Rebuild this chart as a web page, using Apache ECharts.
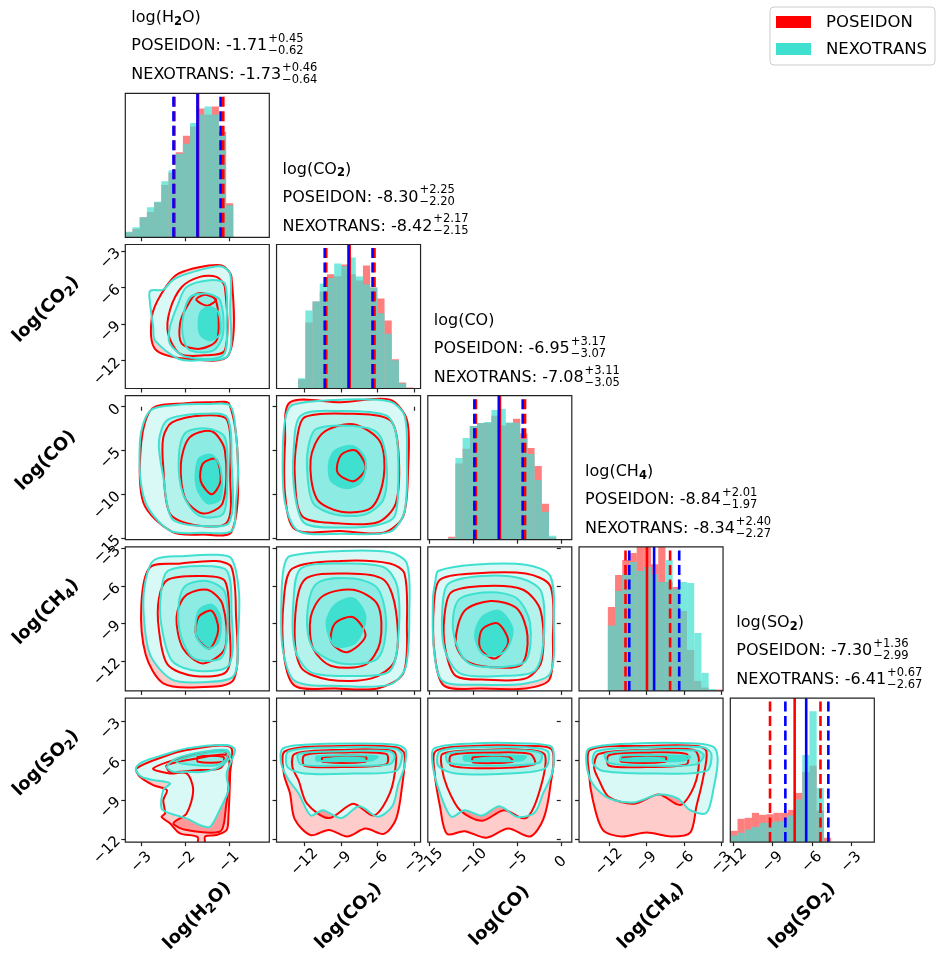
<!DOCTYPE html>
<html><head><meta charset="utf-8">
<script src="https://cdn.jsdelivr.net/npm/echarts@6.0.0/dist/echarts.min.js"></script>
<style>html,body{margin:0;padding:0;background:#fff}#c{width:943px;height:958px}</style>
</head><body><div id="c"></div><script>
// ================= DATA =================
// labels as [before subscript, subscript, after subscript]
const paramLabels = [['log(H','2','O)'],['log(CO','2',')'],['log(CO','',')'],['log(CH','4',')'],['log(SO','2',')']];
const axisRanges = [[-3.364,-0.09],[-14.3,-2.48],[-15.19,1.26],[-14.4,-2.87],[-12.23,-1.245]];
const tickValues = [[-3,-2,-1],[-12,-9,-6,-3],[-15,-10,-5,0],[-12,-9,-6,-3],[-12,-9,-6,-3]];
const seriesNames = ['POSEIDON','NEXOTRANS'];

// title statistics
const medPOS = [-1.71,-8.30,-6.95,-8.84,-7.30];
const errPOSplus = [0.45,2.25,3.17,2.01,1.36];
const errPOSminus = [0.62,2.20,3.07,1.97,2.99];
const medNEX = [-1.73,-8.42,-7.08,-8.34,-6.41];
const errNEXplus = [0.46,2.17,3.11,2.40,0.67];
const errNEXminus = [0.64,2.15,3.05,2.27,2.67];

// vertical lines drawn on the histograms [lower, median, upper]
const linesPOS = [[-2.246,-1.71,-1.136],[-10.22,-8.30,-6.26],[-9.69,-6.95,-4.08],[-10.68,-8.96,-7.11],[-9.20,-7.32,-5.35]];
const linesNEX = [[-2.269,-1.724,-1.197],[-10.345,-8.39,-6.42],[-9.87,-7.08,-4.35],[-10.38,-8.39,-6.38],[-8.03,-6.44,-4.75]];

// histograms: first bin start, bin width, counts
const histStart = [-3.364,-14.3,-12.86,-14.4,-12.23];
const histBinWidth = [0.1637,0.591,0.8225,0.5765,0.549];
const hist_H2O_POS = [15,25,60,76,105,157,194,255,305,333,387,369,393,317,102];
const hist_H2O_NEX = [17,30,60,90,107,168,201,251,281,343,369,393,369,309,96];
const hist_CO2_POS = [0,0,0,28,198,261,291,343,337,372,343,324,369,303,270,204,88,18,3];
const hist_CO2_NEX = [0,0,0,31,234,261,315,332,375,367,393,336,313,303,226,164,85,15,0];
const hist_CO_POS = [9,229,274,342,351,352,373,344,351,364,320,276,222,108,7];
const hist_CO_NEX = [4,246,306,342,351,354,390,394,353,352,303,258,180,84,12];
const hist_CH4_POS = [0,0,0,0,252,348,393,414,440,445,380,440,327,312,240,123,30,10,3,4];
const hist_CH4_NEX = [0,0,0,0,196,300,352,387,360,372,350,327,393,306,327,324,174,54,6,0];
const hist_SO2_POS = [34,70,73,88,82,84,88,88,97,148,211,230,95,13];
const hist_SO2_NEX = [20,28,38,46,58,58,62,64,80,128,262,394,163,3];

// contour rings (outer -> inner), [x, y] in data units
const cont_CO2_H2O_POS = [
 [[-2.16,-4.87],[-1.21,-4.18],[-0.95,-5.14],[-1.02,-11.58],[-1.97,-11.86],[-2.69,-11.04],[-2.76,-8.43],[-2.54,-6.51]],
 [[-2.35,-7.88],[-2.08,-5.97],[-1.67,-5.14],[-1.29,-5.14],[-1.10,-5.97],[-1.10,-11.17],[-1.59,-11.58],[-2.12,-11.45],[-2.39,-9.80]],
 [[-2.12,-8.98],[-1.97,-7.61],[-1.74,-6.51],[-1.36,-6.79],[-1.25,-8.16],[-1.29,-10.35],[-1.67,-11.04],[-2.08,-10.62]],
 [[-1.75,-7.0],[-1.55,-6.6],[-1.3,-7.0],[-1.5,-7.5]]];
const cont_CO2_H2O_NEX = [
 [[-2.80,-6.30],[-2.50,-6.18],[-2.27,-5.36],[-1.82,-4.73],[-1.21,-4.26],[-0.98,-4.86],[-0.98,-7.61],[-1.02,-11.58],[-1.67,-11.99],[-2.16,-11.86],[-2.69,-10.35],[-2.73,-9.26],[-2.80,-7.33]],
 [[-2.35,-9.26],[-2.16,-7.33],[-1.97,-5.97],[-1.44,-5.41],[-1.10,-5.69],[-1.06,-8.98],[-1.14,-11.58],[-1.97,-11.72],[-2.35,-10.62]],
 [[-2.05,-8.43],[-1.89,-6.79],[-1.52,-6.51],[-1.21,-7.06],[-1.14,-9.80],[-1.36,-11.17],[-1.89,-11.17],[-2.05,-10.08]],
 [[-1.67,-8.16],[-1.48,-7.61],[-1.25,-8.02],[-1.21,-9.80],[-1.44,-10.35],[-1.67,-9.80]]];

const cont_CO_H2O_POS = [
 [[-2.75,-0.2],[-2.0,0.4],[-1.4,0.5],[-1.0,0.3],[-0.8,-7],[-0.95,-14.3],[-1.6,-14.6],[-2.3,-14.3],[-2.95,-11],[-3.0,-4]],
 [[-2.3,-1.8],[-1.6,-1],[-1.05,-1.5],[-0.98,-8],[-1.05,-13.2],[-1.8,-13.5],[-2.35,-12.2],[-2.5,-7],[-2.5,-3.5]],
 [[-1.9,-3.5],[-1.4,-2.8],[-1.1,-5],[-1.15,-11],[-1.6,-12.2],[-2.0,-10.5],[-2.1,-6.5]],
 [[-1.6,-6.5],[-1.3,-6],[-1.2,-8.5],[-1.4,-10],[-1.65,-8.5]]];
const cont_CO_H2O_NEX = [
 [[-2.80,-0.45],[-2.2,0.2],[-1.5,0.3],[-0.98,0.12],[-0.85,-3],[-0.8,-7.3],[-0.85,-11],[-0.94,-14.16],[-1.6,-14.4],[-2.35,-14.16],[-2.92,-10.73],[-3.03,-3.88]],
 [[-2.4,-1.5],[-1.6,-0.8],[-1.05,-1.2],[-0.95,-6],[-1.0,-13.2],[-1.7,-13.6],[-2.3,-12.8],[-2.5,-8],[-2.6,-4]],
 [[-2.0,-3],[-1.5,-2.5],[-1.1,-3.5],[-1.05,-9],[-1.15,-12.3],[-1.7,-12.4],[-2.05,-10],[-2.15,-6]],
 [[-1.7,-6],[-1.4,-5.5],[-1.2,-7],[-1.2,-10.5],[-1.5,-11],[-1.75,-9]]];

const cont_CH4_H2O_POS = [
 [[-2.8,-4.5],[-2.1,-4.2],[-1.3,-4.0],[-0.95,-4.5],[-0.85,-8],[-0.9,-13.5],[-1.7,-14.1],[-2.5,-13.8],[-2.9,-11.5],[-3.0,-7.5]],
 [[-2.4,-5.5],[-1.6,-5.2],[-1.1,-5.6],[-1.0,-9],[-1.05,-12.8],[-1.8,-13.2],[-2.4,-12.3],[-2.6,-9.5],[-2.6,-7]],
 [[-2.0,-6.8],[-1.5,-6.3],[-1.15,-7.5],[-1.1,-11],[-1.6,-12.2],[-2.05,-11],[-2.2,-8.5]],
 [[-1.7,-8.5],[-1.4,-8],[-1.25,-9.5],[-1.45,-11],[-1.75,-10]]];
const cont_CH4_H2O_NEX = [
 [[-2.7,-3.9],[-2.0,-3.6],[-1.3,-3.5],[-0.95,-3.8],[-0.78,-6.5],[-0.8,-10],[-0.9,-13.2],[-1.6,-13.7],[-2.3,-13.5],[-2.8,-11.5],[-2.95,-8],[-2.9,-5.5]],
 [[-2.4,-4.8],[-1.6,-4.4],[-1.05,-4.8],[-0.95,-8],[-1.0,-12.3],[-1.7,-12.8],[-2.3,-12],[-2.55,-9],[-2.55,-6.5]],
 [[-2.0,-6],[-1.5,-5.6],[-1.1,-6.5],[-1.05,-10],[-1.2,-11.8],[-1.8,-11.8],[-2.1,-10],[-2.15,-7.5]],
 [[-1.7,-8],[-1.4,-7.5],[-1.2,-8.5],[-1.25,-10.5],[-1.5,-11],[-1.75,-10]]];

const cont_SO2_H2O_POS = [
 [[-3.11,-6.61],[-2.50,-5.72],[-1.97,-5.21],[-0.98,-4.96],[-0.98,-6.99],[-1.02,-10.30],[-1.06,-11.31],[-1.29,-11.69],[-1.55,-11.8],[-1.55,-12.6],[-1.72,-12.6],[-1.72,-11.85],[-2.12,-11.57],[-2.35,-10.80],[-2.54,-10.30],[-2.46,-10.04],[-2.50,-9.03],[-2.42,-8.26],[-2.73,-7.88],[-3.03,-7.25]],
 [[-2.73,-6.61],[-1.97,-5.72],[-1.06,-5.46],[-1.10,-10.30],[-1.22,-11.44],[-1.97,-11.31],[-2.27,-10.80],[-1.97,-10.04],[-1.82,-8.26],[-1.97,-6.99],[-2.35,-6.99]],
 [[-2.42,-6.36],[-1.74,-5.85],[-1.06,-5.59],[-1.22,-6.61],[-1.74,-6.74],[-2.35,-6.87]],
 [[-1.71,-5.72],[-1.14,-5.72],[-1.14,-6.10],[-1.71,-6.10]]];
const cont_SO2_H2O_NEX = [
 [[-3.11,-6.49],[-2.96,-6.10],[-2.50,-5.59],[-1.97,-5.08],[-1.06,-4.83],[-0.87,-5.21],[-1.06,-6.99],[-1.02,-8.26],[-1.22,-9.79],[-1.44,-11.06],[-1.67,-10.93],[-1.97,-10.42],[-2.35,-10.04],[-2.54,-9.66],[-2.50,-8.26],[-2.35,-7.75],[-2.73,-7.50],[-2.99,-7.25],[-3.11,-6.87]],
 [[-2.42,-6.49],[-2.20,-5.85],[-1.59,-5.34],[-1.06,-5.21],[-0.98,-5.72],[-1.22,-6.49],[-1.59,-6.87],[-1.97,-6.87],[-2.27,-6.87]],
 [[-2.20,-6.10],[-1.74,-5.59],[-1.06,-5.34],[-1.06,-5.85],[-1.29,-6.36],[-1.74,-6.36]]];

const cont_CO_CO2_POS = [
 [[-13.2,0.5],[-9,0.5],[-5,0.8],[-3.6,-1.5],[-3.5,-7],[-3.9,-12.5],[-5.5,-14.4],[-9,-14.2],[-12.8,-14],[-13.6,-10],[-13.6,-4]],
 [[-12,-1.2],[-8.5,-0.8],[-5,-1.5],[-4.3,-5],[-4.5,-11],[-6,-13.2],[-9.5,-13.3],[-12.2,-12.5],[-12.8,-8],[-12.6,-3.5]],
 [[-10.5,-3],[-8,-2],[-5.8,-4],[-5.5,-8],[-6.5,-11.5],[-9,-12],[-11,-10.5],[-11.5,-6]],
 [[-9,-5.5],[-7.8,-5],[-7,-7],[-8,-8.5],[-9.3,-7.5]]];
const cont_CO_CO2_NEX = [
 [[-13.0,0.2],[-9,0.8],[-5,0.6],[-3.8,-1],[-3.6,-6],[-3.8,-12],[-5,-14.3],[-9,-14.5],[-12.5,-14.2],[-13.6,-11],[-13.8,-6],[-13.6,-1.5]],
 [[-12.3,-1],[-9,-0.5],[-5.3,-1],[-4.5,-3],[-4.3,-8],[-4.6,-12.5],[-6,-13.5],[-9,-13.8],[-12,-13.3],[-12.8,-10],[-12.9,-5]],
 [[-11,-2.5],[-8,-2.2],[-6,-3],[-5.3,-6],[-5.5,-10.5],[-7,-12.3],[-9.5,-12.3],[-11.3,-11],[-11.8,-7],[-11.6,-4]],
 [[-9.5,-5],[-8,-4.5],[-7,-6],[-7.3,-8.5],[-8.5,-9.3],[-9.8,-8.5],[-10,-6.5]]];

const cont_CH4_CO2_POS = [
 [[-13,-4.6],[-9,-4.0],[-5,-4.2],[-3.8,-5],[-3.6,-9],[-3.9,-13],[-6,-14.2],[-9.5,-14.2],[-12.8,-14],[-13.7,-11.5],[-13.7,-7]],
 [[-12,-5.5],[-8.5,-5],[-5.5,-5.5],[-4.5,-8],[-4.6,-12],[-6.5,-13.4],[-10,-13.5],[-12.3,-12.5],[-12.8,-9]],
 [[-10.5,-6.8],[-8,-6.3],[-6,-7.5],[-5.8,-10.5],[-7,-12.3],[-9.8,-12.4],[-11.3,-11],[-11.5,-8.5]],
 [[-9.5,-9],[-8,-8.5],[-7,-10],[-8.5,-11.3],[-9.8,-10.5]]];
const cont_CH4_CO2_NEX = [
 [[-13.2,-3.6],[-9,-3.2],[-5,-3.3],[-3.6,-4.2],[-3.4,-8],[-3.7,-12.5],[-5,-13.9],[-9,-14.0],[-12.8,-13.6],[-13.8,-11],[-13.9,-7],[-13.7,-4.5]],
 [[-12.3,-4.6],[-9,-4.2],[-5.5,-4.5],[-4.4,-6],[-4.3,-10],[-5,-12.8],[-8,-13.2],[-11.5,-12.9],[-12.8,-11],[-12.9,-7]],
 [[-11,-5.8],[-8,-5.4],[-6,-6.2],[-5.3,-9],[-6,-11.8],[-9,-12.2],[-11.3,-11],[-11.8,-8.5]],
 [[-9.5,-7.5],[-8,-7],[-7,-8.5],[-7.8,-10.5],[-9.5,-10.8],[-10.2,-9]]];

const cont_SO2_CO2_POS = [
 [[-13.6,-5.3],[-9,-4.9],[-4.5,-5.0],[-3.8,-5.5],[-4,-8],[-4.5,-10.5],[-5.5,-11.6],[-7,-11.2],[-8.5,-11.8],[-10,-11.3],[-11.5,-11.7],[-12.8,-10.5],[-13.2,-8.5],[-13.7,-7]],
 [[-12.8,-5.5],[-9,-5.2],[-4.7,-5.3],[-4.5,-6.2],[-5,-8.5],[-6.3,-10.2],[-8,-9.3],[-10,-10.4],[-11.8,-9.3],[-12.5,-7.5],[-13,-6.5]],
 [[-12,-5.6],[-9,-5.4],[-5.3,-5.5],[-5.3,-6.3],[-9,-6.5],[-12,-6.4]],
 [[-10.5,-5.75],[-7,-5.7],[-7,-6.1],[-10.5,-6.1]]];
const cont_SO2_CO2_NEX = [
 [[-13.8,-5.1],[-12,-4.8],[-8,-4.7],[-4.5,-4.8],[-3.7,-5.2],[-3.8,-6.5],[-4.3,-7.8],[-4.8,-9.5],[-6,-10.3],[-7.5,-9.5],[-9,-10.4],[-10.5,-9.8],[-11.5,-10.2],[-12.5,-8.5],[-13.3,-7.5],[-13.9,-6.3]],
 [[-13.3,-5.3],[-9,-5.0],[-4.5,-5.1],[-4,-5.6],[-4.5,-6.8],[-8,-7.0],[-12,-7.0],[-13.4,-6.5]],
 [[-12.5,-5.5],[-9,-5.3],[-5,-5.3],[-4.6,-5.7],[-5,-6.3],[-9,-6.4],[-12.3,-6.3]],
 [[-11,-5.7],[-8,-5.6],[-6,-5.7],[-6.5,-6.0],[-9,-6.05],[-11,-6.0]]];

const cont_CH4_CO_POS = [
 [[-13.8,-5.5],[-10,-5],[-4,-5],[-1.2,-6],[-0.9,-10],[-1.3,-13.5],[-4,-14.2],[-9,-14.2],[-13.3,-14],[-14.4,-11.5],[-14.5,-7.5]],
 [[-12.5,-6.5],[-8.5,-6],[-4.3,-6.3],[-2.3,-8],[-2.2,-12],[-4,-13.4],[-8.5,-13.5],[-12,-13.2],[-13.2,-11],[-13.3,-8.5]],
 [[-11,-8],[-8,-7.2],[-5,-7.8],[-3.8,-10],[-4.5,-12.3],[-8,-12.5],[-10.8,-12],[-12,-10.5]],
 [[-9,-9.5],[-7.2,-9],[-6,-10.5],[-7.5,-11.8],[-9.2,-11]]];
const cont_CH4_CO_NEX = [
 [[-14,-4.8],[-10,-4.3],[-4,-4.3],[-1.2,-5.2],[-0.8,-9],[-1.2,-13],[-4,-13.8],[-9,-13.9],[-13.5,-13.6],[-14.5,-11],[-14.6,-7],[-14.3,-5.5]],
 [[-12.8,-5.8],[-9,-5.2],[-4.5,-5.4],[-2.2,-6.5],[-2,-10.5],[-3,-12.8],[-7,-13.2],[-11.5,-13],[-13.3,-11],[-13.5,-7.5]],
 [[-11.5,-7],[-8,-6.5],[-5,-7],[-3.5,-9],[-4,-12],[-7,-12.5],[-10.5,-12.2],[-12,-10.5],[-12.3,-8.5]],
 [[-9,-8.5],[-7,-8],[-5.5,-9.5],[-6.5,-11.3],[-8.8,-11.5],[-9.8,-10]]];

const cont_SO2_CO_POS = [
 [[-14.3,-5.3],[-10,-4.9],[-4,-4.9],[-1.0,-5.2],[-1.2,-8],[-2,-10.5],[-3.5,-11.8],[-6,-11.2],[-8.5,-11.9],[-11,-11.4],[-13,-11.6],[-13.8,-9.5],[-14.4,-7]],
 [[-13.5,-5.5],[-9,-5.2],[-4,-5.2],[-1.8,-5.6],[-2.5,-8.5],[-4,-10.4],[-6.5,-9.8],[-9,-10.6],[-11.5,-9.8],[-13,-8],[-13.6,-6.5]],
 [[-12.5,-5.6],[-8,-5.4],[-3.5,-5.5],[-3,-6.3],[-8,-6.6],[-12.5,-6.4]],
 [[-10,-5.75],[-6,-5.7],[-5.5,-6.1],[-10,-6.15]]];
const cont_SO2_CO_NEX = [
 [[-14.5,-5.1],[-10,-4.7],[-4,-4.7],[-1.2,-4.9],[-0.8,-5.5],[-1,-7],[-2,-8.5],[-3,-10],[-5,-10.3],[-7,-9.5],[-9,-10.2],[-11,-9.8],[-12.5,-10.3],[-13.8,-8.5],[-14.6,-6.5]],
 [[-13.8,-5.3],[-10,-5.0],[-4,-5.0],[-1.5,-5.3],[-1.8,-6.6],[-6,-7.0],[-12,-7.0],[-14,-6.4]],
 [[-13,-5.5],[-9,-5.25],[-4,-5.25],[-2.2,-5.5],[-2.5,-6.2],[-8,-6.4],[-12.8,-6.2]],
 [[-11,-5.65],[-7,-5.6],[-4,-5.7],[-4.5,-6.0],[-8,-6.05],[-11,-6.0]]];

const cont_SO2_CH4_POS = [
 [[-13.5,-5.2],[-9,-4.9],[-5,-4.9],[-4.2,-5.3],[-4.5,-7.5],[-5,-9.5],[-5.5,-11.5],[-7,-11.8],[-9,-11.5],[-11,-11.8],[-12.5,-11.3],[-13.3,-9],[-13.6,-7]],
 [[-12.8,-5.5],[-9,-5.2],[-5.2,-5.2],[-4.8,-6],[-5.2,-8],[-6.3,-9.4],[-8.0,-8.6],[-10,-9.3],[-12,-8.8],[-12.8,-7.5],[-13.2,-6.5]],
 [[-12,-5.6],[-9,-5.4],[-5.8,-5.5],[-5.8,-6.3],[-9,-6.5],[-12,-6.4]],
 [[-11,-5.75],[-7.5,-5.7],[-7.5,-6.1],[-11,-6.1]]];
const cont_SO2_CH4_NEX = [
 [[-13.6,-5.1],[-10,-4.7],[-5,-4.7],[-3.6,-5.0],[-3.3,-6],[-3.6,-8],[-4.2,-10],[-5.5,-9.8],[-6.5,-8.9],[-8,-8.6],[-10,-9.2],[-12,-8.9],[-13.3,-7.8],[-13.8,-6.3]],
 [[-13,-5.3],[-9,-5.0],[-4.5,-5.0],[-3.8,-5.5],[-4.2,-6.8],[-8,-7.0],[-12.5,-6.8],[-13.3,-6.2]],
 [[-12.3,-5.5],[-9,-5.25],[-5,-5.25],[-4.4,-5.6],[-5,-6.3],[-9,-6.4],[-12,-6.2]],
 [[-11,-5.65],[-8,-5.6],[-5.5,-5.7],[-6,-6.0],[-8,-6.05],[-11,-6.0]]];

// ================= BUILD =================
const histPOS = [hist_H2O_POS, hist_CO2_POS, hist_CO_POS, hist_CH4_POS, hist_SO2_POS];
const histNEX = [hist_H2O_NEX, hist_CO2_NEX, hist_CO_NEX, hist_CH4_NEX, hist_SO2_NEX];
const contours = {
  '1_0': [cont_CO2_H2O_POS, cont_CO2_H2O_NEX],
  '2_0': [cont_CO_H2O_POS, cont_CO_H2O_NEX],
  '3_0': [cont_CH4_H2O_POS, cont_CH4_H2O_NEX],
  '4_0': [cont_SO2_H2O_POS, cont_SO2_H2O_NEX],
  '2_1': [cont_CO_CO2_POS, cont_CO_CO2_NEX],
  '3_1': [cont_CH4_CO2_POS, cont_CH4_CO2_NEX],
  '4_1': [cont_SO2_CO2_POS, cont_SO2_CO2_NEX],
  '3_2': [cont_CH4_CO_POS, cont_CH4_CO_NEX],
  '4_2': [cont_SO2_CO_POS, cont_SO2_CO_NEX],
  '4_3': [cont_SO2_CH4_POS, cont_SO2_CH4_NEX]
};

const X_LEFT = 125.3, Y_TOP = 93.3, STEP_X = 151.25, STEP_Y = 151.2, SIZE = 144;
const FONT = 'DejaVu Sans';
const RED = '#ff0000', TURQ = '#40e0d0', BLUE = '#0000ff';
const redFills = ['#ffcccc','#ff9999','#ff6666','#ff0000'];
const turqFills = ['#d9f9f6','#b3f3ec','#8cece3','#40e0d0'];
const TICK_FS = 15;

const grids = [], xAxis = [], yAxis = [], series = [], graphics = [];
const fmt = v => (v < 0 ? '\u2212' + Math.abs(v) : String(v));

function poly(gi, ring, fill, stroke, z) {
  return {
    type: 'custom', xAxisIndex: gi, yAxisIndex: gi, z: z, silent: true, clip: true,
    data: [[ring[0][0], ring[0][1]]], encode: { x: 0, y: 1 },
    renderItem: (p, api) => {
      const pts = ring.map(pt => api.coord(pt));
      return { type: 'polygon', shape: { points: pts, smooth: 0.3 },
        style: { fill: fill || 'none', stroke: stroke || 'none', lineWidth: stroke ? 2 : 0 } };
    }
  };
}
function histSeries(gi, start, w, counts, fill, z) {
  return {
    type: 'custom', xAxisIndex: gi, yAxisIndex: gi, z: z, silent: true, clip: true,
    data: counts.map((v, i) => [start + i * w, start + (i + 1) * w, v]),
    encode: { x: [0, 1], y: 2 },
    renderItem: (p, api) => {
      const a = api.coord([api.value(0), api.value(2)]);
      const b = api.coord([api.value(1), 0]);
      return { type: 'rect', shape: { x: a[0], y: a[1], width: b[0] - a[0], height: b[1] - a[1] },
        style: { fill: fill } };
    }
  };
}
function vlineSeries(gi, vals, color, z) {
  return {
    type: 'custom', xAxisIndex: gi, yAxisIndex: gi, z: z, silent: true, clip: true,
    data: vals.map((v, i) => [v, i === 1 ? 0 : 1, 0]),
    encode: { x: 0, y: 2 },
    renderItem: (p, api) => {
      const x = api.coord([api.value(0), 0])[0];
      const cs = p.coordSys;
      const dashed = api.value(1) === 1;
      return { type: 'line', shape: { x1: x, y1: cs.y + cs.height, x2: x, y2: cs.y },
        style: { stroke: color, lineWidth: 2.6, lineDash: dashed ? [10, 4.5] : null } };
    }
  };
}

const gridIdx = {};
for (let r = 0; r < 5; r++) for (let c = 0; c <= r; c++) {
  const gi = grids.length; gridIdx[r + '_' + c] = gi;
  const left = X_LEFT + STEP_X * c, top = Y_TOP + STEP_Y * r;
  grids.push({ left: left, top: top, width: SIZE, height: SIZE, containLabel: false, outerBoundsMode: 'none', show: false });
  xAxis.push({
    gridIndex: gi, type: 'value', min: axisRanges[c][0], max: axisRanges[c][1],
    splitLine: { show: false }, axisLine: { show: false },
    axisTick: { show: true, length: 4, lineStyle: { color: '#222', width: 1.2 }, customValues: tickValues[c] },
    axisLabel: { show: r === 4, customValues: tickValues[c], formatter: fmt, rotate: 45, align: 'center', verticalAlign: 'middle',
      margin: 20, fontFamily: FONT, fontSize: TICK_FS, color: '#000' }
  });
  if (r === c) {
    yAxis.push({ gridIndex: gi, type: 'value', min: 0, max: 1.1 * Math.max(...histNEX[c]), show: false });
  } else {
    yAxis.push({
      gridIndex: gi, type: 'value', min: axisRanges[r][0], max: axisRanges[r][1],
      splitLine: { show: false }, axisLine: { show: false },
      axisTick: { show: true, length: 4, lineStyle: { color: '#222', width: 1.2 }, customValues: tickValues[r] },
      axisLabel: { show: c === 0, customValues: tickValues[r], formatter: fmt, rotate: 45, margin: 7,
        fontFamily: FONT, fontSize: TICK_FS, color: '#000' }
    });
  }
  graphics.push({ type: 'rect', shape: { x: left, y: top, width: SIZE, height: SIZE }, silent: true, z: 100,
    style: { fill: 'none', stroke: '#222', lineWidth: 1.2 } });

  if (r === c) {
    series.push(histSeries(gi, histStart[c], histBinWidth[c], histPOS[c], 'rgba(255,0,0,0.5)', 10));
    series.push(histSeries(gi, histStart[c], histBinWidth[c], histNEX[c], 'rgba(64,224,208,0.7)', 11));
    series.push(vlineSeries(gi, linesPOS[c], RED, 12));
    series.push(vlineSeries(gi, linesNEX[c], BLUE, 13));
  } else {
    const [P, N] = contours[r + '_' + c];
    P.forEach((ring, i) => series.push(poly(gi, ring, redFills[i], null, 2)));
    N.forEach((ring, i) => series.push(poly(gi, ring, turqFills[i], null, 3)));
    P.forEach(ring => series.push(poly(gi, ring, null, RED, 4)));
    N.forEach(ring => series.push(poly(gi, ring, null, TURQ, 5)));
  }
}

// text helpers
const mctx = document.createElement('canvas').getContext('2d');
function tw(text, size, weight) { mctx.font = (weight || 'normal') + ' ' + size + 'px "' + FONT + '"'; return mctx.measureText(text).width; }
function txt(text, x, y, size, opts) {
  opts = opts || {};
  return { type: 'text', x: x, y: y, rotation: opts.rot || 0, silent: true, z: 120,
    style: { text: text, fontFamily: FONT, fontSize: size, fontWeight: opts.weight || 'normal',
      align: opts.align || 'left', verticalAlign: 'middle', fill: '#000' } };
}
// label with a bold subscript via rich text
function subLabel(parts, x, y, size, opts) {
  opts = opts || {};
  const s = Math.round(size * 0.72 * 10) / 10;
  const t = '{a|' + parts[0] + '}' + (parts[1] ? '{s|' + parts[1] + '}' : '') + '{a|' + parts[2] + '}';
  return { type: 'text', x: x, y: y, rotation: opts.rot || 0, silent: true, z: 120,
    style: { text: t, align: opts.align || 'left', verticalAlign: 'middle', fill: '#000',
      rich: {
        a: { fontFamily: FONT, fontSize: size, fontWeight: opts.weight || 'normal', lineHeight: size * 1.25, fill: '#000' },
        s: { fontFamily: FONT, fontSize: s, fontWeight: 'bold', lineHeight: s * 0.9, verticalAlign: 'bottom', fill: '#000' }
      } } };
}

// titles above diagonal
const TS = 16, SS = 11.5;
for (let c = 0; c < 5; c++) {
  const x0 = X_LEFT + STEP_X * c + 6, T = Y_TOP + STEP_Y * c;
  graphics.push(subLabel(paramLabels[c], x0, T - 75, TS));
  const m1 = seriesNames[0] + ': ' + medPOS[c].toFixed(2);
  const w1 = tw(m1, TS);
  graphics.push(txt(m1, x0, T - 47, TS));
  graphics.push(txt('+' + errPOSplus[c].toFixed(2), x0 + w1 + 1, T - 54, SS));
  graphics.push(txt('\u2212' + errPOSminus[c].toFixed(2), x0 + w1 + 1, T - 42, SS));
  const m2 = seriesNames[1] + ': ' + medNEX[c].toFixed(2);
  const w2 = tw(m2, TS);
  graphics.push(txt(m2, x0, T - 18, TS));
  graphics.push(txt('+' + errNEXplus[c].toFixed(2), x0 + w2 + 1, T - 25, SS));
  graphics.push(txt('\u2212' + errNEXminus[c].toFixed(2), x0 + w2 + 1, T - 13, SS));
}
// axis names
for (let c = 0; c < 5; c++) {
  graphics.push(subLabel(paramLabels[c], X_LEFT + STEP_X * c + 72, 916, 18, { rot: Math.PI / 4, weight: 'bold', align: 'center' }));
}
for (let r = 1; r < 5; r++) {
  graphics.push(subLabel(paramLabels[r], 46, Y_TOP + STEP_Y * r + 65, 18, { rot: Math.PI / 4, weight: 'bold', align: 'center' }));
}
// legend
graphics.push({ type: 'rect', shape: { x: 770, y: 7, width: 165, height: 58, r: 4 }, z: 110, silent: true,
  style: { fill: 'rgba(255,255,255,0.8)', stroke: '#cccccc', lineWidth: 1 } });
graphics.push({ type: 'rect', shape: { x: 776, y: 16, width: 35, height: 12 }, z: 111, silent: true, style: { fill: RED } });
graphics.push({ type: 'rect', shape: { x: 776, y: 43, width: 35, height: 12 }, z: 111, silent: true, style: { fill: TURQ } });
graphics.push(txt(seriesNames[0], 826, 22.5, 16.5));
graphics.push(txt(seriesNames[1], 826, 49.5, 16.5));

const chart = echarts.init(document.getElementById('c'), null, { renderer: 'canvas' });
chart.setOption({
  backgroundColor: '#ffffff', animation: false,
  grid: grids, xAxis: xAxis, yAxis: yAxis, series: series, graphic: graphics
});
</script></body></html>
